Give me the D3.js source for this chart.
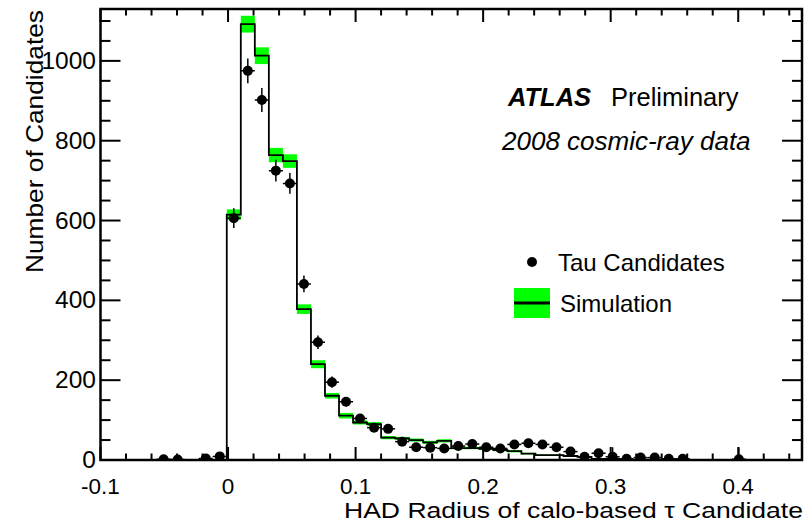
<!DOCTYPE html>
<html>
<head>
<meta charset="utf-8">
<script src="https://cdn.jsdelivr.net/npm/d3@7"></script>
<style>
  html, body { margin: 0; padding: 0; background: #fff; }
  svg { display: block; }
  text { font-family: "Liberation Sans", Arial, Helvetica, sans-serif; fill: #000; }
</style>
</head>
<body>
<svg id="chart" width="805" height="523"></svg>
<script>
// ---------- DATA ----------
const histMin = -0.1;
const histMax = 0.45;
const binWidth = 0.011;           // 50 bins
// Tau candidates (data points), one entry per bin; null = no point drawn
const dataCounts = [null, null, null, null, 2, 1, null, 4, 9, 606,
                    975, 902, 725, 693, 441, 295, 195, 146, 104, 81,
                    78, 46, 32, 31, 29, 35, 40, 32, 29, 39,
                    42, 39, 32, 21, 8, 17, 8, 3, 6, 6,
                    3, 3, null, null, null, 2, null, null, null, null];
const dataErrors = [0, 0, 0, 0, 1, 1, 0, 2, 10, 25,
                    31, 30, 27, 26, 21, 17, 14, 12, 10, 9,
                    9, 7, 6, 6, 5, 6, 6, 6, 5, 6,
                    6, 6, 6, 5, 3, 4, 24, 2, 2, 2,
                    2, 2, 0, 0, 0, 30, 0, 0, 0, 0];
// Simulation histogram and its uncertainty band
const simCounts = [0, 0, 0, 0, 0, 0, 0, 0, 0, 615,
                   1092, 1013, 764, 749, 378, 240, 161, 111, 94, 90,
                   56, 54, 50, 44, 48, 30, 30, 28, 25, 22,
                   16, 12, 12, 10, 8, 3, 3, 0, 0, 0,
                   0, 0, 0, 0, 0, 0, 0, 0, 0, 0];
const simErrors = [0, 0, 0, 0, 0, 0, 0, 0, 0, 13,
                   21, 21, 18, 17, 12, 10, 7, 7, 5, 5,
                   4, 4, 4, 4, 4, 3, 3, 3, 3, 3,
                   2, 2, 2, 2, 2, 1, 1, 0, 0, 0,
                   0, 0, 0, 0, 0, 0, 0, 0, 0, 0];
const xTickValues = [-0.1, 0, 0.1, 0.2, 0.3, 0.4];
const xTickLabels = ["-0.1", "0", "0.1", "0.2", "0.3", "0.4"];
const yTickLabels = [0, 200, 400, 600, 800, 1000];
const yMax = 1130;

// ---------- LAYOUT ----------
const svg = d3.select("#chart");
const L = 100.5, R = 802, T = 9, B = 460;
const x = d3.scaleLinear().domain([histMin, histMax]).range([L, R]);
const y = d3.scaleLinear().domain([0, yMax]).range([B, T]);
const GREEN = "#00ff00";

const nBins = simCounts.length;
const lo = i => histMin + i * binWidth;
const hi = i => histMin + (i + 1) * binWidth;
const mid = i => histMin + (i + 0.5) * binWidth;

svg.append("defs").append("clipPath").attr("id", "plotclip")
  .append("rect").attr("x", L).attr("y", T).attr("width", R - L).attr("height", B - T);

const plot = svg.append("g").attr("clip-path", "url(#plotclip)");

// simulation band
plot.append("g").selectAll("rect")
  .data(d3.range(nBins).filter(i => simErrors[i] > 0))
  .join("rect")
  .attr("x", i => x(lo(i)))
  .attr("width", i => x(hi(i)) - x(lo(i)))
  .attr("y", i => y(simCounts[i] + simErrors[i]))
  .attr("height", i => y(simCounts[i] - simErrors[i]) - y(simCounts[i] + simErrors[i]))
  .attr("fill", GREEN);

// simulation step line
const stepPts = d3.range(nBins + 1).map(i => [lo(i), i < nBins ? simCounts[i] : 0]);
plot.append("path")
  .attr("d", d3.line().x(d => x(d[0])).y(d => y(d[1])).curve(d3.curveStepAfter)(stepPts))
  .attr("fill", "none").attr("stroke", "#000").attr("stroke-width", 1.8);

// data points
const pts = d3.range(nBins).filter(i => dataCounts[i] !== null);
const dg = plot.append("g");
dg.selectAll("line.ex").data(pts).join("line").attr("class", "ex")
  .attr("x1", i => x(lo(i))).attr("x2", i => x(hi(i)))
  .attr("y1", i => y(dataCounts[i])).attr("y2", i => y(dataCounts[i]))
  .attr("stroke", "#000").attr("stroke-width", 1.5);
dg.selectAll("line.ey").data(pts).join("line").attr("class", "ey")
  .attr("x1", i => x(mid(i))).attr("x2", i => x(mid(i)))
  .attr("y1", i => y(dataCounts[i] + dataErrors[i])).attr("y2", i => y(dataCounts[i] - dataErrors[i]))
  .attr("stroke", "#000").attr("stroke-width", 1.5);
dg.selectAll("circle").data(pts).join("circle")
  .attr("cx", i => x(mid(i))).attr("cy", i => y(dataCounts[i])).attr("r", 5)
  .attr("fill", "#000");

// ---------- AXES ----------
const axG = svg.append("g").attr("stroke", "#000").attr("stroke-width", 2);
const xMinor = d3.range(0, 28).map(k => +(histMin + k * 0.02).toFixed(3)).filter(v => v <= histMax);
xMinor.forEach(v => {
  const major = xTickValues.some(t => Math.abs(t - v) < 1e-6);
  const len = major ? 13 : 6.5;
  axG.append("line").attr("x1", x(v)).attr("x2", x(v)).attr("y1", B).attr("y2", B - len);
  axG.append("line").attr("x1", x(v)).attr("x2", x(v)).attr("y1", T).attr("y2", T + len);
});
const yMinor = d3.range(0, 23).map(k => k * 50).filter(v => v <= yMax);
yMinor.forEach(v => {
  const major = yTickLabels.includes(v);
  const len = major ? 20 : 10;
  axG.append("line").attr("x1", L).attr("x2", L + len).attr("y1", y(v)).attr("y2", y(v));
  axG.append("line").attr("x1", R).attr("x2", R - len).attr("y1", y(v)).attr("y2", y(v));
});
// frame
svg.append("rect").attr("x", L).attr("y", T).attr("width", R - L).attr("height", B - T)
  .attr("fill", "none").attr("stroke", "#000").attr("stroke-width", 2.5);

// tick labels
svg.append("g").selectAll("text").data(xTickValues).join("text")
  .attr("x", d => x(d)).attr("y", 493.5).attr("text-anchor", "middle")
  .style("font-size", "22.5px").text((d, i) => xTickLabels[i]);
svg.append("g").selectAll("text").data(yTickLabels).join("text")
  .attr("x", 96).attr("y", d => y(d) + 8).attr("text-anchor", "end")
  .style("font-size", "24.5px").text(d => d);

// axis titles
svg.append("text").attr("x", 803).attr("y", 518.2).attr("text-anchor", "end")
  .attr("textLength", 459).attr("lengthAdjust", "spacingAndGlyphs")
  .style("font-size", "21.5px").text("HAD Radius of calo-based τ Candidate");
svg.append("text").attr("transform", "translate(43,10) rotate(-90)")
  .attr("text-anchor", "end").attr("textLength", 263).attr("lengthAdjust", "spacingAndGlyphs")
  .style("font-size", "24px").text("Number of Candidates");

// labels
svg.append("text").attr("x", 508).attr("y", 106).style("font-size", "25.5px")
  .style("font-weight", "bold").style("font-style", "italic").text("ATLAS");
svg.append("text").attr("x", 611).attr("y", 106).style("font-size", "25.5px").text("Preliminary");
svg.append("text").attr("x", 502).attr("y", 150).style("font-size", "26px")
  .style("font-style", "italic").text("2008 cosmic-ray data");

// legend
svg.append("circle").attr("cx", 532).attr("cy", 262).attr("r", 5).attr("fill", "#000");
svg.append("text").attr("x", 558).attr("y", 271).style("font-size", "24px").text("Tau Candidates");
svg.append("rect").attr("x", 514).attr("y", 288).attr("width", 36).attr("height", 30).attr("fill", GREEN);
svg.append("line").attr("x1", 514).attr("x2", 550).attr("y1", 303).attr("y2", 303)
  .attr("stroke", "#000").attr("stroke-width", 3);
svg.append("text").attr("x", 560).attr("y", 312).style("font-size", "24px").text("Simulation");
</script>
</body>
</html>
